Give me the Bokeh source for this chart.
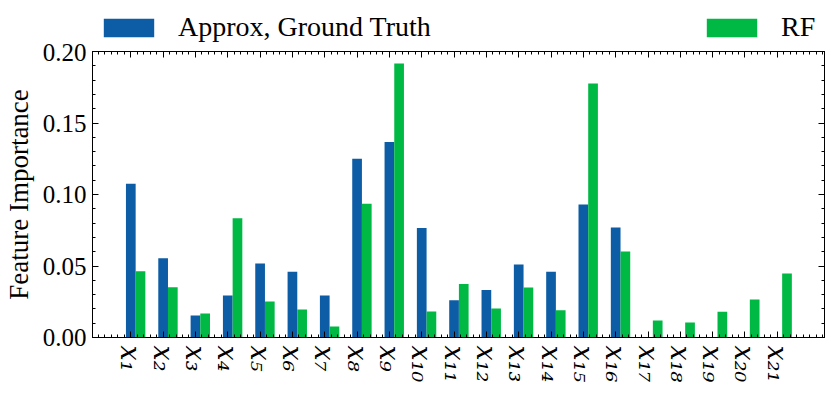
import numpy as np
from bokeh.plotting import figure
from bokeh.layouts import column
from bokeh.models import (ColumnDataSource, Range1d, LinearAxis, FixedTicker,
                          Legend, LegendItem)
from bokeh.embed import file_html
from bokeh.resources import INLINE

# ---- data ----
features = list(range(1, 22))
tick_labels = ["x₁", "x₂", "x₃", "x₄", "x₅", "x₆", "x₇", "x₈", "x₉", "x₁₀",
               "x₁₁", "x₁₂", "x₁₃", "x₁₄", "x₁₅", "x₁₆", "x₁₇", "x₁₈",
               "x₁₉", "x₂₀", "x₂₁"]
approx_gt = [0.1075, 0.0555, 0.0154, 0.0294, 0.0517, 0.0459, 0.0294, 0.1250,
             0.1368, 0.0765, 0.0261, 0.0333, 0.0510, 0.0459, 0.0930, 0.0769,
             0.0, 0.0, 0.0, 0.0, 0.0]
rf = [0.0464, 0.0352, 0.0168, 0.0834, 0.0252, 0.0196, 0.0077, 0.0935,
      0.1916, 0.0182, 0.0375, 0.0203, 0.0350, 0.0190, 0.1776, 0.0601,
      0.0119, 0.0105, 0.0180, 0.0265, 0.0448]
y_ticks = [0.0, 0.05, 0.10, 0.15, 0.20]
y_tick_labels = ["0.00", "0.05", "0.10", "0.15", "0.20"]
series_names = ["Approx, Ground Truth", "RF"]

BLUE = "#0C5DA5"
GREEN = "#00B945"
FONT = "Liberation Serif"
W = 0.3
TOTAL_W = 817

src = ColumnDataSource(dict(
    x=features,
    x2=[f + W for f in features],
    a=approx_gt,
    r=rf,
))

p = figure(frame_width=732, frame_height=286,
           x_range=Range1d(-0.185, 22.46), y_range=Range1d(0, 0.20),
           output_backend="svg", toolbar_location=None,
           min_border_left=83, min_border_right=2, min_border_top=8,
           min_border_bottom=40)
p.grid.visible = False
p.outline_line_color = "black"
p.outline_line_width = 1
p.background_fill_color = "white"
p.border_fill_color = "white"

rb = p.vbar(x="x", top="a", width=W, source=src, fill_color=BLUE, line_color=None)
rg = p.vbar(x="x2", top="r", width=W, source=src, fill_color=GREEN, line_color=None)

minor_x = [round(-0.2 + 0.2 * i, 2) for i in range(0, 115)]
minor_y = [round(0.01 * i, 2) for i in range(0, 21)]


def style_axis(ax, labels=True):
    ax.axis_line_color = "black"
    ax.major_tick_in = 6
    ax.major_tick_out = 0
    ax.minor_tick_in = 3
    ax.minor_tick_out = 0
    ax.major_tick_line_color = "black"
    ax.minor_tick_line_color = "black"
    ax.major_label_text_font = FONT
    if labels:
        ax.major_label_text_font_size = "25px"
        ax.major_label_text_color = "black"
        ax.major_label_standoff = 6
    else:
        ax.major_label_text_font_size = "0px"
        ax.major_label_text_alpha = 0
        ax.major_label_standoff = 0


xa = p.xaxis[0]
xa.ticker = FixedTicker(ticks=features, minor_ticks=minor_x)
xa.major_label_overrides = {f: t for f, t in zip(features, tick_labels)}
style_axis(xa)
xa.major_label_text_font = "DejaVu Serif"
xa.major_label_text_font_size = "27px"
xa.major_label_text_font_style = "italic"
xa.major_label_orientation = "vertical"
xa.major_label_standoff = 8

ya = p.yaxis[0]
ya.ticker = FixedTicker(ticks=y_ticks, minor_ticks=minor_y)
ya.major_label_overrides = {t: s for t, s in zip(y_ticks, y_tick_labels)}
style_axis(ya)
ya.axis_label = "Feature Importance"
ya.axis_label_text_font = FONT
ya.axis_label_text_font_size = "27px"
ya.axis_label_text_font_style = "normal"
ya.axis_label_text_color = "black"
ya.axis_label_standoff = 6

top = LinearAxis(ticker=FixedTicker(ticks=features, minor_ticks=minor_x))
style_axis(top, labels=False)
p.add_layout(top, "above")
right = LinearAxis(ticker=FixedTicker(ticks=y_ticks, minor_ticks=minor_y))
style_axis(right, labels=False)
p.add_layout(right, "right")

# ---- legend strip on top (same series, drawn out of view there) ----
lf = figure(width=TOTAL_W, height=43, x_range=Range1d(-0.185, 22.46),
            y_range=Range1d(1, 2),
            output_backend="svg", toolbar_location=None,
            x_axis_type=None, y_axis_type=None,
            min_border_left=0, min_border_right=0, min_border_top=0,
            min_border_bottom=0)
lf.grid.visible = False
lf.outline_line_color = None
lf.background_fill_color = "white"
lf.border_fill_color = "white"
lb = lf.vbar(x="x", top="a", width=W, source=src, fill_color=BLUE, line_color=None)
lg = lf.vbar(x="x2", top="r", width=W, source=src, fill_color=GREEN, line_color=None)

legend = Legend(items=[LegendItem(label=series_names[0], renderers=[lb]),
                       LegendItem(label=series_names[1], renderers=[lg])],
                orientation="horizontal", location=(5, 0),
                glyph_width=63, glyph_height=23, label_standoff=18,
                label_width=260, spacing=262, padding=0, margin=0,
                border_line_color=None, background_fill_alpha=0,
                label_text_font=FONT, label_text_font_size="28px",
                label_text_color="black")
lf.add_layout(legend, "center")

layout = column(lf, p, spacing=0)
open("out.html", "w").write(file_html(layout, INLINE))
